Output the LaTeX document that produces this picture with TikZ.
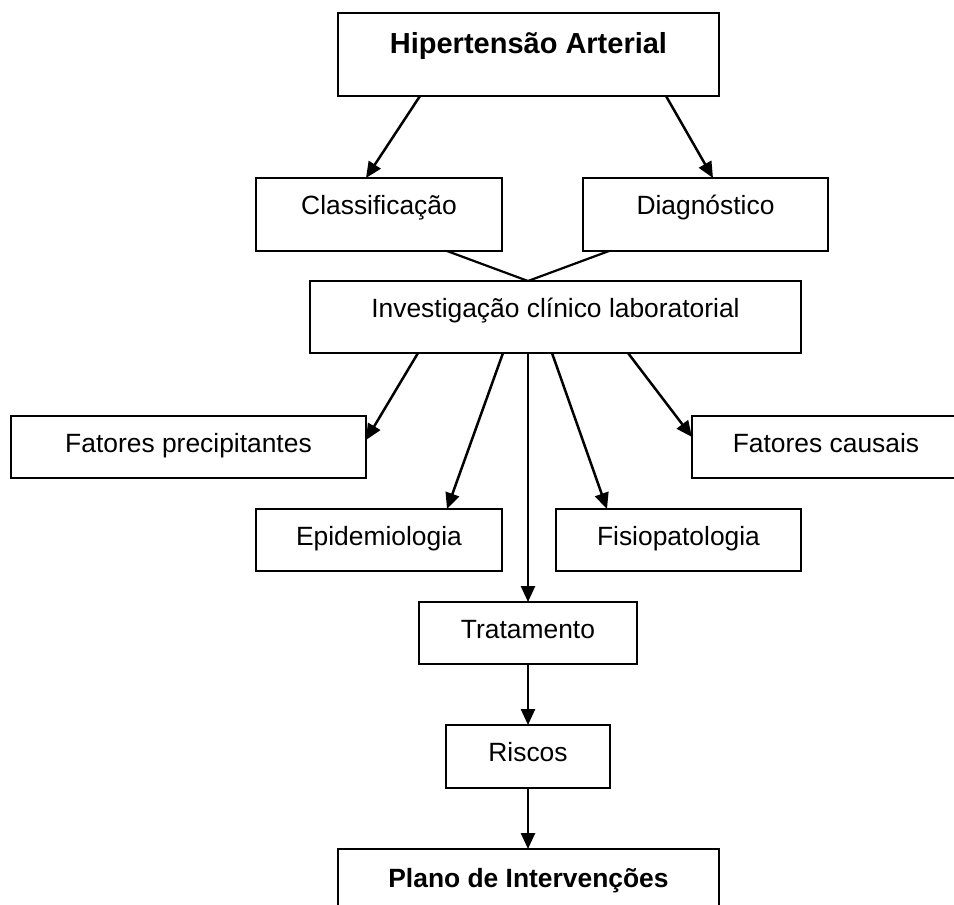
\documentclass[tikz,border=0pt]{standalone}
\usepackage{fontspec}
\setmainfont{Liberation Sans}
\usetikzlibrary{arrows.meta}

\begin{document}
\begin{tikzpicture}[x=1pt, y=-1pt,
  caixa/.style={draw, line width=2.2pt, inner sep=0pt, outer sep=0pt,
    anchor=north west, text height=36pt,
    font=\fontsize{26.4}{30}\selectfont},
  seta/.style={line width=2.5pt, -{Triangle[length=16pt, width=14pt]}},
  liga/.style={line width=2.2pt}]
\useasboundingbox (0,0) rectangle (954,905);
\clip (0,0) rectangle (954,905);
% Topo
\node[caixa, font=\fontsize{29}{32}\selectfont\bfseries, text height=40pt,
  text depth=43pt, minimum width=381pt] (hip) at (338,13) {Hipertensão Arterial};
\node[caixa, text depth=37pt, minimum width=246pt] (clas) at (256,178) {Classificação};
\node[caixa, text depth=37pt, minimum width=245pt] (diag) at (583,178) {Diagnóstico};
\node[caixa, text depth=36pt, minimum width=491pt] (inv) at (310,281)
  {Investigação clínico laboratorial};
% Ramos da investigacao
\node[caixa, text depth=26pt, minimum width=355pt] (fprec) at (11,416) {Fatores precipitantes};
\node[caixa, text depth=26pt, minimum width=268pt] (fcaus) at (692,416) {Fatores causais};
\node[caixa, text depth=26pt, minimum width=246pt] (epid) at (256,509) {Epidemiologia};
\node[caixa, text depth=26pt, minimum width=245pt] (fisio) at (556,509) {Fisiopatologia};
% Eixo central
\node[caixa, text depth=26pt, minimum width=218pt] (trat) at (419,602) {Tratamento};
\node[caixa, text depth=27pt, minimum width=164pt] (risc) at (446,725) {Riscos};
\node[caixa, font=\fontsize{26.4}{30}\selectfont\bfseries, text height=38pt,
  text depth=45pt, minimum width=381pt] (plano) at (338,849) {Plano de Intervenções};
% Setas
\draw[seta] ([xshift=-108.5pt]hip.south) -- ([xshift=-13pt]clas.north);
\draw[seta] ([xshift=137.5pt]hip.south) -- ([xshift=7.5pt]diag.north);
\draw[liga] ([xshift=68pt]clas.south) -- ([xshift=-27.5pt]inv.north)
  -- ([xshift=-96.5pt]diag.south);
\draw[seta] ([xshift=-137.5pt]inv.south) -- ([yshift=7pt]fprec.east);
\draw[seta] ([xshift=-52.5pt]inv.south) -- ([xshift=68pt]epid.north);
\draw[seta] ([xshift=-27.5pt]inv.south) -- (trat.north);
\draw[seta] ([xshift=-3.5pt]inv.south) -- ([xshift=-71.5pt]fisio.north);
\draw[seta] ([xshift=72.5pt]inv.south) -- ([yshift=10pt]fcaus.west);
\draw[seta] (trat.south) -- (risc.north);
\draw[seta] (risc.south) -- (risc.south |- plano.north);
\end{tikzpicture}
\end{document}
